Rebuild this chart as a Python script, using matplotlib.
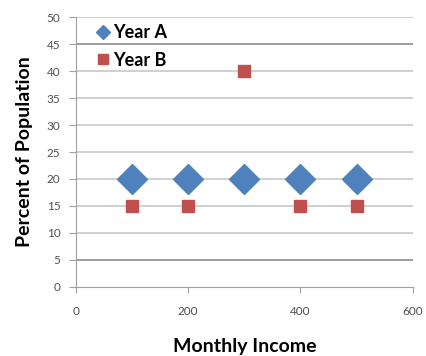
import matplotlib.pyplot as plt
from matplotlib.lines import Line2D

income = [100, 200, 300, 400, 500]
year_a = [20, 20, 20, 20, 20]
year_b = [15, 15, 40, 15, 15]

plt.rcParams['font.family'] = ['Lato', 'DejaVu Sans']

fig = plt.figure(figsize=(4.26, 3.56), dpi=100)
ax = fig.add_axes([0.178, 0.194, 0.791, 0.758])

ax.set_xlim(0, 600)
ax.set_ylim(0, 50)
ax.set_yticks(range(0, 51, 5))
ax.set_xticks([0, 200, 400, 600])

# horizontal grid, two of the lines drawn darker
for y in range(5, 51, 5):
    c = '#8c8c8c' if y in (5, 45) else '#c8c8c8'
    ax.axhline(y, color=c, lw=1.2, zorder=0)

ax.plot(income, year_a, 'D', color='#4f81bd', ms=15, zorder=3)
ax.plot(income, year_b, 's', color='#c0504d', ms=8, zorder=3)

for s in ['top', 'right']:
    ax.spines[s].set_visible(False)
ax.spines['left'].set_color('#a0a0a0')
ax.spines['bottom'].set_color('#a0a0a0')
ax.tick_params(axis='y', length=5, color='#a0a0a0', labelsize=8.5,
               labelcolor='#505050', pad=6)
ax.tick_params(axis='x', length=4, color='#a0a0a0', labelsize=8.5,
               labelcolor='#505050', pad=10)

ax.set_xlabel('Monthly Income', fontsize=14, fontweight='bold', labelpad=15)
ax.set_ylabel('Percent of Population', fontsize=14, fontweight='bold', labelpad=10)

# smaller legend markers than the plotted ones
handles = [Line2D([], [], ls='', marker='D', color='#4f81bd', ms=7.5),
           Line2D([], [], ls='', marker='s', color='#c0504d', ms=7)]
ax.legend(handles, ['Year A', 'Year B'], loc='upper left',
          bbox_to_anchor=(0.005, 1.035), frameon=False,
          prop={'size': 13, 'weight': 'bold'}, handletextpad=0.1,
          labelspacing=0.6, handlelength=1.0)

fig.savefig('out.png', dpi=100)
